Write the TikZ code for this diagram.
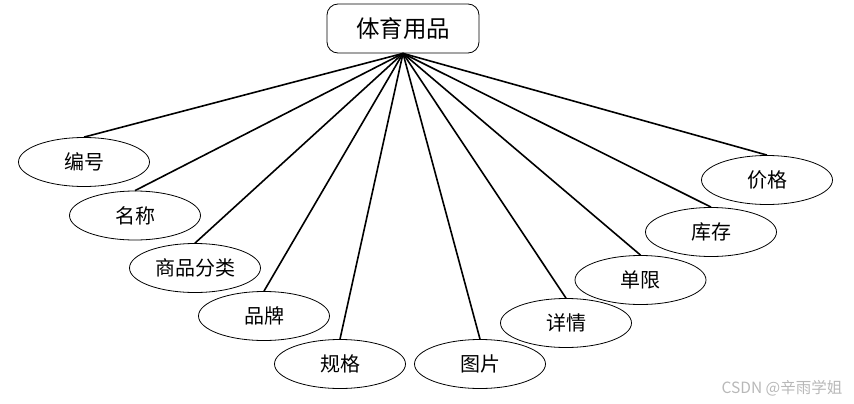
\documentclass[tikz,border=0pt]{standalone}
\usepackage{fontspec}
\setmainfont{Noto Sans CJK SC}
\newfontfamily\cjk{Noto Sans CJK SC}
\usetikzlibrary{shapes.geometric}
\begin{document}
\begin{tikzpicture}[x=1pt,y=-1pt,
  attr/.style={draw, ellipse, line width=0.8pt, minimum width=131pt, minimum height=49pt, inner sep=0pt, font=\cjk\fontsize{20}{20}\selectfont},
  ent/.style={draw, rounded corners=11pt, line width=0.8pt, minimum width=152pt, minimum height=49pt, inner sep=0pt, font=\cjk\fontsize{23.5}{23.5}\selectfont},
  link/.style={line width=1.6pt}]
\useasboundingbox (0,0) rectangle (854,404);
\node[ent] (top) at (403,28.5) {体育用品};
\node[attr] (a1) at (84,162) {编号};
\node[attr] (a2) at (135,215.5) {名称};
\node[attr] (a3) at (195,268) {商品分类};
\node[attr] (a4) at (264,316) {品牌};
\node[attr] (a5) at (340,364) {规格};
\node[attr] (a6) at (480,364) {图片};
\node[attr] (a7) at (566,323) {详情};
\node[attr] (a8) at (640.5,280) {单限};
\node[attr] (a9) at (711,232) {库存};
\node[attr] (a10) at (767,180) {价格};
\foreach \i in {1,...,10} {\draw[link] (top.south) -- (a\i.north);}
\node[text=black!28, font=\cjk\fontsize{15.5}{15.5}\selectfont] (wm) at (782,388) {CSDN @辛雨学姐};
\end{tikzpicture}
\end{document}
